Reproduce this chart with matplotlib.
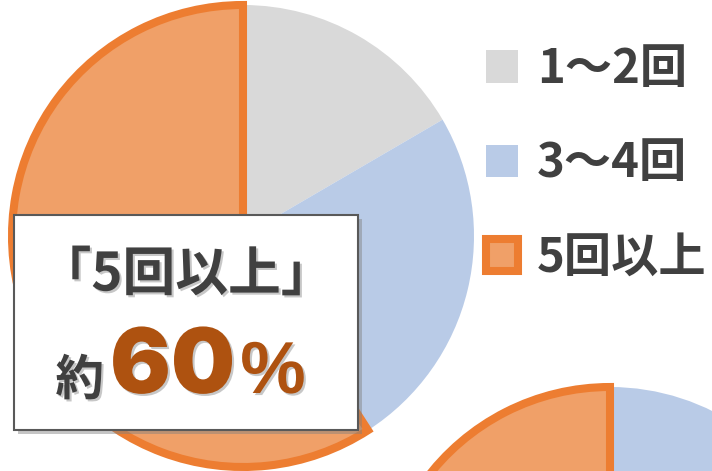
import matplotlib.pyplot as plt
import matplotlib.patheffects as pe
from matplotlib.patches import Rectangle

plt.rcParams['font.family'] = ['Noto Sans CJK JP', 'DejaVu Sans']

labels = ["1～2回", "3～4回", "5回以上"]
values = [16.6, 24.3, 59.1]
# second chart, only its top edge shows at the bottom right
values2 = [0.0, 40.0, 60.0]
colors = ["#D9D9D9", "#B9CBE7", "#F0A068"]
edge_orange = "#ED7D31"
text_dark = "#404040"
accent = "#AE5210"

W, H = 712, 471
fig = plt.figure(figsize=(W / 100, H / 100), dpi=100)
ax = fig.add_axes([0, 0, 1, 1])


def draw_pie(vals, cx, cy, r):
    wedges, _ = ax.pie(vals, colors=colors, startangle=90, counterclock=False,
                       center=(cx, H - cy), radius=r, frame=True,
                       wedgeprops=dict(linewidth=0))
    wedges[2].set_edgecolor(edge_orange)
    wedges[2].set_linewidth(5.8)
    return wedges


wedges = draw_pie(values, 243, 236, 231)
draw_pie(values2, 610, 617, 230)

ax.set_xlim(0, W)
ax.set_ylim(0, H)
ax.set_aspect("equal")
ax.axis("off")

# callout box
box = Rectangle((14, H - 430), 344, 215, facecolor="white", edgecolor="#595959",
                linewidth=1.5, zorder=5,
                path_effects=[pe.SimplePatchShadow(offset=(3, -3), shadow_rgbFace="#808080", alpha=0.45),
                              pe.Normal()])
ax.add_patch(box)

shadow = [pe.withSimplePatchShadow(offset=(1.5, -1.5), shadow_rgbFace="#909090", alpha=0.5)]
ax.text(186, H - 275, "「5回以上」", fontsize=38, fontweight="bold", color=text_dark,
        ha="center", va="center", zorder=6, path_effects=shadow)
ax.text(104, H - 395, "約", fontsize=35, fontweight="bold", color=text_dark,
        ha="right", va="baseline", zorder=6, path_effects=shadow)
t60 = ax.text(110, H - 393, "60", fontsize=65, fontweight="black", family=["Inter", "DejaVu Sans"],
              color=accent, ha="left", va="baseline", zorder=6, path_effects=shadow)
fig.canvas.draw()
bb = t60.get_window_extent()
ax.text(bb.x1 + 5, H - 393, "%", fontsize=53, fontweight="bold", family=["Liberation Sans"],
        color=accent, ha="left", va="baseline", zorder=6, path_effects=shadow)

leg = ax.legend(wedges, labels, loc="upper left", bbox_to_anchor=(486 / W, 1 - 45 / H),
                frameon=False, fontsize=34, handlelength=0.68, handleheight=0.68,
                handletextpad=0.4, labelspacing=0.98, borderpad=0, borderaxespad=0)
for t in leg.get_texts():
    t.set_color(text_dark)
    t.set_fontweight("bold")

fig.savefig("out.png", dpi=100)
